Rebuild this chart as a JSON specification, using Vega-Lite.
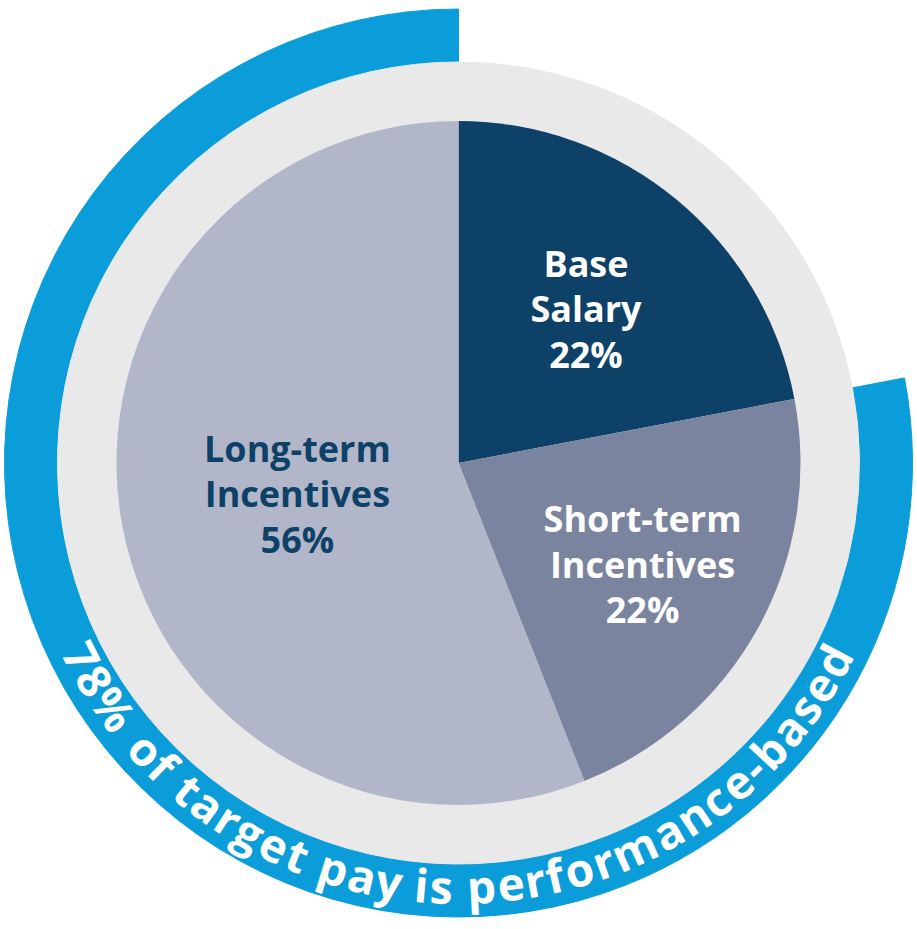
{
  "$schema": "https://vega.github.io/schema/vega-lite/v6.json",
  "width": 917,
  "height": 929,
  "autosize": {"type": "fit", "contains": "padding"},
  "padding": {"top": 0, "left": 0, "right": 0, "bottom": 3},
  "background": "white",
  "config": {"view": {"stroke": null}, "font": "Open Sans"},
  "datasets": {
    "pay": [
      {"rank": 1, "category": "Base Salary", "value": 22, "label": "Base\nSalary\n22%"},
      {"rank": 2, "category": "Short-term Incentives", "value": 22, "label": "Short-term\nIncentives\n22%"},
      {"rank": 3, "category": "Long-term Incentives", "value": 56, "label": "Long-term\nIncentives\n56%"}
    ],
    "ring": [
      {"ch": "7", "pos": 242.8}, {"ch": "8", "pos": 239.1}, {"ch": "%", "pos": 234.5},
      {"ch": "o", "pos": 227.4}, {"ch": "f", "pos": 224.2},
      {"ch": "t", "pos": 219.6}, {"ch": "a", "pos": 216.2}, {"ch": "r", "pos": 212.8}, {"ch": "g", "pos": 209.5}, {"ch": "e", "pos": 205.7}, {"ch": "t", "pos": 202.3},
      {"ch": "p", "pos": 197.1}, {"ch": "a", "pos": 193.1}, {"ch": "y", "pos": 189.4},
      {"ch": "i", "pos": 185.0}, {"ch": "s", "pos": 182.3},
      {"ch": "p", "pos": 176.9}, {"ch": "e", "pos": 172.9}, {"ch": "r", "pos": 169.6}, {"ch": "f", "pos": 166.9}, {"ch": "o", "pos": 163.5}, {"ch": "r", "pos": 160.0}, {"ch": "m", "pos": 155.5}, {"ch": "a", "pos": 150.4}, {"ch": "n", "pos": 146.4}, {"ch": "c", "pos": 142.7}, {"ch": "e", "pos": 139.0}, {"ch": "-", "pos": 136.0}, {"ch": "b", "pos": 132.9}, {"ch": "a", "pos": 128.9}, {"ch": "s", "pos": 125.3}, {"ch": "e", "pos": 121.8}, {"ch": "d", "pos": 117.8}
    ]
  },
  "layer": [
    {
      "data": {"name": "pay"},
      "mark": {"type": "arc", "radius": 454, "radius2": 380, "strokeWidth": 1},
      "encoding": {
        "theta": {"field": "value", "type": "quantitative", "stack": true},
        "order": {"field": "rank", "type": "quantitative"},
        "detail": {"field": "category"},
        "color": {"condition": {"test": "datum.rank === 1", "value": "transparent"}, "value": "#0A9DDA"},
        "stroke": {"condition": {"test": "datum.rank === 1", "value": "transparent"}, "value": "#0A9DDA"}
      }
    },
    {
      "data": {"name": "pay"},
      "mark": {"type": "arc", "radius": 401, "fill": "#E9E9EA", "stroke": "#E9E9EA", "strokeWidth": 1},
      "encoding": {
        "theta": {"field": "value", "type": "quantitative", "stack": true},
        "order": {"field": "rank", "type": "quantitative"},
        "detail": {"field": "category"}
      }
    },
    {
      "data": {"name": "pay"},
      "mark": {"type": "arc", "radius": 342},
      "encoding": {
        "theta": {"field": "value", "type": "quantitative", "stack": true},
        "order": {"field": "rank", "type": "quantitative"},
        "color": {
          "field": "category", "type": "nominal", "legend": null,
          "scale": {"domain": ["Base Salary", "Short-term Incentives", "Long-term Incentives"], "range": ["#0E4168", "#7B849F", "#B2B6C9"]}
        }
      }
    },
    {
      "data": {"name": "pay"},
      "mark": {"type": "text", "radius": 200, "dy": -43, "fontSize": 36, "fontWeight": "bold", "lineBreak": "\n", "lineHeight": 45.5, "align": "center", "baseline": "middle", "fill": "white"},
      "encoding": {
        "theta": {"field": "value", "type": "quantitative", "stack": true},
        "order": {"field": "rank", "type": "quantitative"},
        "detail": {"field": "category"},
        "text": {"field": "label"},
        "opacity": {"condition": {"test": "datum.rank === 1", "value": 1}, "value": 0}
      }
    },
    {
      "data": {"name": "pay"},
      "mark": {"type": "text", "radius": 210, "dy": -43, "fontSize": 36, "fontWeight": "bold", "lineBreak": "\n", "lineHeight": 45.5, "align": "center", "baseline": "middle", "fill": "white"},
      "encoding": {
        "theta": {"field": "value", "type": "quantitative", "stack": true},
        "order": {"field": "rank", "type": "quantitative"},
        "detail": {"field": "category"},
        "text": {"field": "label"},
        "opacity": {"condition": {"test": "datum.rank === 2", "value": 1}, "value": 0}
      }
    },
    {
      "data": {"name": "pay"},
      "mark": {"type": "text", "radius": 164, "dy": -43, "fontSize": 36, "fontWeight": "bold", "lineBreak": "\n", "lineHeight": 45.5, "align": "center", "baseline": "middle", "fill": "#0E4168"},
      "encoding": {
        "theta": {"field": "value", "type": "quantitative", "stack": true},
        "order": {"field": "rank", "type": "quantitative"},
        "detail": {"field": "category"},
        "text": {"field": "label"},
        "opacity": {"condition": {"test": "datum.rank === 3", "value": 1}, "value": 0}
      }
    },
    {
      "data": {"name": "ring"},
      "mark": {"type": "text", "radius": 441, "fontSize": 46, "fontWeight": "bold", "fill": "white", "align": "center", "baseline": "alphabetic"},
      "encoding": {
        "theta": {"field": "pos", "type": "quantitative", "stack": null, "scale": {"domain": [0, 360], "range": [0, 6.283185307179586], "zero": false, "nice": false}},
        "angle": {"field": "pos", "type": "quantitative", "scale": {"domain": [0, 360], "range": [-180, 180], "zero": false, "nice": false}},
        "text": {"field": "ch"}
      }
    }
  ],
  "resolve": {"scale": {"theta": "independent", "color": "independent", "opacity": "independent"}}
}
